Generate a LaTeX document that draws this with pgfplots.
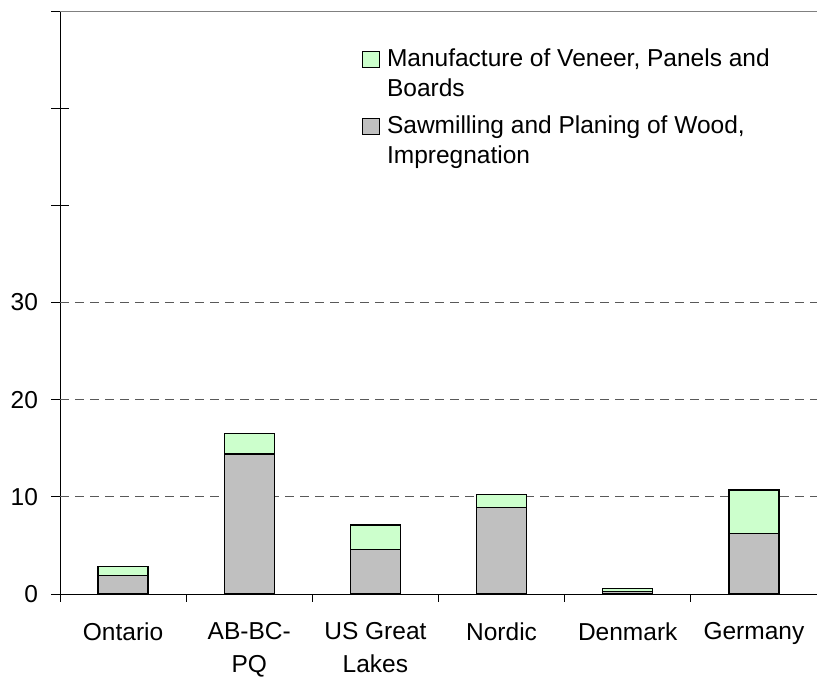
\documentclass[border=0pt]{standalone}
\usepackage{pgfplots}
\pgfplotsset{compat=1.18}
\usepackage{fontspec}
\setmainfont{Liberation Sans}
\definecolor{lgreen}{HTML}{CCFFCC}
\definecolor{lgray}{HTML}{C0C0C0}
\begin{document}
\begin{tikzpicture}
\useasboundingbox (0,0) rectangle (817bp,679bp);
\begin{axis}[
  at={(60bp,85bp)}, anchor=south west,
  scale only axis, width=757bp, height=583bp,
  ybar stacked, bar width=50bp,
  xmin=-0.5, xmax=5.5, ymin=0, ymax=60,
  axis lines*=left,
  axis line style={black, line width=1bp},
  /pgf/number format/assume math mode=true,
  tick label style={font=\fontsize{24.5bp}{33bp}\selectfont},
  xtick={0,...,5},
  xticklabels={Ontario,{AB-BC-\\PQ},{US Great\\Lakes},Nordic,Denmark,Germany},
  xticklabel style={align=center, yshift=-8bp},
  major x tick style={draw=none},
  minor xtick={-0.5,0.5,...,5.5},
  minor x tick style={black, line width=0.8bp},
  minor tick length=8bp,
  xtick align=outside,
  ytick={0,10,...,60},
  yticklabels={0,10,20,30,,,},
  ytick align=center,
  major tick length=17bp,
  y tick style={black, line width=0.8bp},
  yticklabel style={xshift=-10bp},
  extra y ticks={10,20,30},
  extra y tick labels={,,},
  extra y tick style={grid=major, major tick length=0bp},
  major grid style={gray!70!black, line width=0.7bp, dash pattern=on 9bp off 6bp},
  reverse legend,
  legend cell align=left,
  legend style={at={(0.399,0.939)}, anchor=north west, draw=none, fill=none,
    font=\fontsize{24.5bp}{30bp}\selectfont, nodes={align=left},
    row sep=14bp, column sep=5bp, inner sep=0pt},
  legend image code/.code={\draw[#1, line width=0.8bp] (0bp,6bp) rectangle (17bp,22bp);},
]
\addplot[fill=lgray, draw=black, line width=1.2bp] coordinates {(0,1.9) (1,14.4) (2,4.6) (3,8.9) (4,0.27) (5,6.2)};
\addlegendentry{Sawmilling and Planing of Wood,\\Impregnation}
\addplot[fill=lgreen, draw=black, line width=1.2bp] coordinates {(0,0.95) (1,2.1) (2,2.5) (3,1.35) (4,0.3) (5,4.5)};
\addlegendentry{Manufacture of Veneer, Panels and\\Boards}
\draw[gray, line width=1bp] (rel axis cs:0,1) -- (rel axis cs:1,1);
\end{axis}
\end{tikzpicture}
\end{document}
